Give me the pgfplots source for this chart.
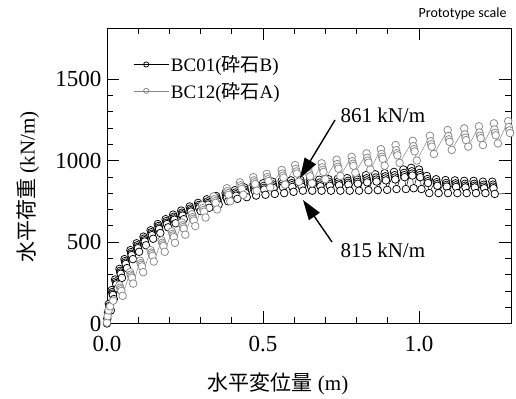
\documentclass[border=0pt]{standalone}
\usepackage{fontspec}
\setmainfont{Liberation Serif}
\newfontfamily\cjk{Noto Sans CJK JP}
\newfontfamily\carlito{Carlito}
\newfontfamily\timesf{Liberation Serif}
\usepackage{pgfplots}
\pgfplotsset{compat=1.18}
\usetikzlibrary{arrows.meta}
\definecolor{gr}{RGB}{135,135,135}
\begin{document}
\begin{tikzpicture}
\path[use as bounding box] (-107bp,-75.5bp) rectangle (409bp,323.5bp);
\begin{axis}[
 scale only axis, width=404bp, height=295bp,
 at={(0,0)}, anchor=south west,
 xmin=0, xmax=1.295, ymin=0, ymax=1810,
 xtick={0,0.5,1.0}, xticklabels={\mbox{\timesf 0.0},\mbox{\timesf 0.5},\mbox{\timesf 1.0}}, minor x tick num=4,
 ytick={0,500,1000,1500}, yticklabels={\mbox{\timesf 0},\mbox{\timesf 500},\mbox{\timesf 1000},\mbox{\timesf 1500}}, minor y tick num=4,
 major tick length=12bp, minor tick length=6bp,
 tick style={black, line width=0.6pt},
 axis line style={line width=0.8pt},
 /pgf/number format/assume math mode=true,
 tick label style={font=\timesf\fontsize{23bp}{27bp}\selectfont},
 x tick label style={yshift=-9bp},
 y tick label style={xshift=-2bp},
 legend style={draw=none, fill=none, at={(axis description cs:0.065,0.915)}, anchor=north west,
   font=\fontsize{19bp}{22bp}\selectfont, row sep=5bp, inner sep=0pt},
 legend cell align=left,
 legend image code/.code={
   \draw[#1,mark=none] (0bp,0bp) -- (25bp,0bp);
   \draw[#1,mark size=2.6bp] plot coordinates {(12.5bp,0bp)};
   \path (0bp,0bp) -- (35bp,0bp);
 },
]
\addplot[black, line width=0.5pt, mark=*, mark size=3.8bp, mark options={fill=white, draw=black, line width=0.75pt}] coordinates {
(0.000,0)(0.001,30)(0.003,70)
(0.006,120)(0.008,108)(0.009,98)(0.010,90)(0.012,80)
(0.015,205)(0.017,193)(0.018,183)(0.019,175)(0.022,150)
(0.026,270)(0.028,258)(0.029,248)(0.030,240)(0.034,215)
(0.040,335)(0.042,323)(0.043,313)(0.044,305)(0.048,280)
(0.056,395)(0.058,383)(0.059,373)(0.060,365)(0.064,340)
(0.075,450)(0.077,438)(0.078,428)(0.079,420)(0.083,395)
(0.095,492)(0.097,480)(0.098,470)(0.099,462)(0.103,440)
(0.117,533)(0.119,521)(0.120,511)(0.121,503)(0.125,480)
(0.140,572)(0.142,560)(0.143,550)(0.144,542)(0.148,520)
(0.163,610)(0.165,598)(0.166,588)(0.167,580)(0.171,555)
(0.188,640)(0.190,628)(0.191,618)(0.192,610)(0.196,590)
(0.212,668)(0.214,655)(0.215,645)(0.216,637)(0.220,615)
(0.238,693)(0.240,680)(0.241,670)(0.242,662)(0.246,640)
(0.265,718)(0.267,705)(0.268,695)(0.269,687)(0.273,665)
(0.292,740)(0.294,727)(0.295,717)(0.296,709)(0.300,690)
(0.320,762)(0.322,749)(0.323,739)(0.324,730)(0.328,710)
(0.350,782)(0.352,768)(0.353,758)(0.354,749)(0.358,730)
(0.380,800)(0.382,786)(0.383,776)(0.384,767)(0.388,750)
(0.410,818)(0.412,804)(0.413,793)(0.414,784)(0.418,765)
(0.440,835)(0.442,820)(0.443,809)(0.444,800)(0.448,775)
(0.470,848)(0.472,832)(0.473,821)(0.474,812)(0.478,785)
(0.500,860)(0.502,844)(0.503,832)(0.504,822)(0.508,790)
(0.530,870)(0.532,853)(0.533,841)(0.534,831)(0.538,795)
(0.560,875)(0.562,858)(0.563,846)(0.564,836)(0.568,800)
(0.590,878)(0.592,861)(0.593,849)(0.594,838)(0.598,808)
(0.620,880)(0.622,863)(0.623,851)(0.624,840)(0.628,815)
(0.650,880)(0.652,863)(0.653,851)(0.654,840)(0.658,815)
(0.680,882)(0.682,865)(0.683,853)(0.684,842)(0.688,815)
(0.710,885)(0.712,868)(0.713,856)(0.714,845)(0.718,815)
(0.740,888)(0.742,871)(0.743,859)(0.744,848)(0.748,815)
(0.770,892)(0.772,875)(0.773,863)(0.774,852)(0.778,815)
(0.800,900)(0.802,882)(0.803,869)(0.804,858)(0.808,815)
(0.830,910)(0.832,891)(0.833,878)(0.834,866)(0.838,818)
(0.860,915)(0.862,896)(0.863,883)(0.864,871)(0.868,818)
(0.890,922)(0.892,903)(0.893,890)(0.894,878)(0.898,820)
(0.920,930)(0.922,910)(0.923,896)(0.924,884)(0.928,825)
(0.950,945)(0.952,924)(0.953,910)(0.954,898)(0.958,825)
(0.975,955)(0.977,934)(0.978,920)(0.979,908)(0.983,830)
(1.000,945)(1.002,924)(1.003,910)(1.004,898)(1.008,825)
(1.025,905)(1.027,886)(1.028,873)(1.029,862)(1.033,800)
(1.055,885)(1.057,867)(1.058,855)(1.059,845)(1.063,800)
(1.085,880)(1.087,862)(1.088,850)(1.089,840)(1.093,800)
(1.115,878)(1.117,860)(1.118,848)(1.119,838)(1.123,800)
(1.145,875)(1.147,857)(1.148,845)(1.149,835)(1.153,800)
(1.175,875)(1.177,857)(1.178,845)(1.179,835)(1.183,800)
(1.205,870)(1.207,852)(1.208,840)(1.209,830)(1.213,800)
(1.235,870)(1.237,852)(1.238,840)(1.239,830)(1.243,795)
(1.350,800)
};
\addlegendentry{BC01({\cjk 砕石}B)}
\addplot[gr, line width=0.5pt, mark=*, mark size=3.8bp, mark options={fill=white, draw=gr, line width=0.75pt}] coordinates {
(0.000,5)(0.002,45)(0.005,80)(0.010,105)(0.020,140)
(0.040,235)(0.042,220)(0.044,210)(0.046,200)(0.050,170)
(0.074,315)(0.076,300)(0.078,290)(0.080,280)(0.084,245)
(0.106,385)(0.108,370)(0.110,360)(0.112,350)(0.116,315)
(0.140,450)(0.142,435)(0.144,425)(0.146,415)(0.150,380)
(0.175,510)(0.177,495)(0.179,485)(0.181,475)(0.185,440)
(0.208,565)(0.210,550)(0.212,540)(0.214,530)(0.218,495)
(0.240,620)(0.242,603)(0.244,592)(0.246,582)(0.251,545)
(0.272,670)(0.274,653)(0.276,642)(0.278,632)(0.283,598)
(0.305,725)(0.307,708)(0.309,696)(0.311,686)(0.316,650)
(0.342,780)(0.344,762)(0.346,750)(0.348,740)(0.353,700)
(0.384,830)(0.386,812)(0.388,800)(0.390,790)(0.395,750)
(0.426,866)(0.428,848)(0.430,836)(0.432,826)(0.437,790)
(0.469,898)(0.471,878)(0.473,866)(0.475,855)(0.480,815)
(0.512,918)(0.514,898)(0.516,885)(0.518,874)(0.523,835)
(0.560,942)(0.562,920)(0.564,907)(0.566,895)(0.571,852)
(0.603,972)(0.605,948)(0.607,933)(0.609,920)(0.615,870)
(0.645,950)(0.647,928)(0.649,915)(0.651,903)(0.657,860)
(0.688,983)(0.690,958)(0.692,943)(0.694,930)(0.700,885)
(0.736,1005)(0.738,978)(0.740,962)(0.742,950)(0.748,905)
(0.784,1023)(0.786,996)(0.788,980)(0.790,967)(0.796,925)
(0.832,1044)(0.834,1016)(0.836,1000)(0.838,987)(0.844,945)
(0.878,1070)(0.880,1040)(0.882,1023)(0.884,1010)(0.890,968)
(0.925,1095)(0.927,1063)(0.929,1045)(0.931,1032)(0.938,985)
(0.980,1121)(0.982,1088)(0.984,1070)(0.986,1056)(0.993,1000)
(1.035,1152)(1.037,1118)(1.039,1100)(1.041,1085)(1.048,1040)
(1.092,1187)(1.094,1150)(1.096,1130)(1.098,1115)(1.105,1065)
(1.145,1197)(1.147,1160)(1.149,1140)(1.151,1125)(1.158,1085)
(1.192,1210)(1.194,1172)(1.196,1152)(1.198,1137)(1.205,1095)
(1.240,1228)(1.242,1190)(1.244,1170)(1.246,1155)(1.253,1105)
(1.286,1242)(1.288,1205)(1.290,1185)(1.292,1168)
};
\addlegendentry{BC12({\cjk 砕石}A)}
\end{axis}
\draw[line width=1.4pt, -{Triangle[length=20bp,width=13bp]}] (228bp,203.5bp) -- (193bp,145.5bp);
\draw[line width=1.4pt, -{Triangle[length=20bp,width=13bp]}] (225bp,81.5bp) -- (196bp,123.5bp);
\node[anchor=west, font=\fontsize{21bp}{25bp}\selectfont] at (230bp,208.5bp) {861 kN/m};
\node[anchor=west, font=\fontsize{21bp}{25bp}\selectfont] at (230bp,73.5bp) {815 kN/m};
\node[rotate=90, font=\fontsize{21bp}{25bp}\selectfont] at (-79bp,136.5bp) {{\cjk 水平荷重} (kN/m)};
\node[font=\fontsize{21bp}{25bp}\selectfont] at (171bp,-60.5bp) {{\cjk 水平変位量} (m)};
\node[anchor=east, font=\fontsize{14bp}{17bp}\carlito] at (403bp,309.5bp) {Prototype scale};
\end{tikzpicture}
\end{document}
